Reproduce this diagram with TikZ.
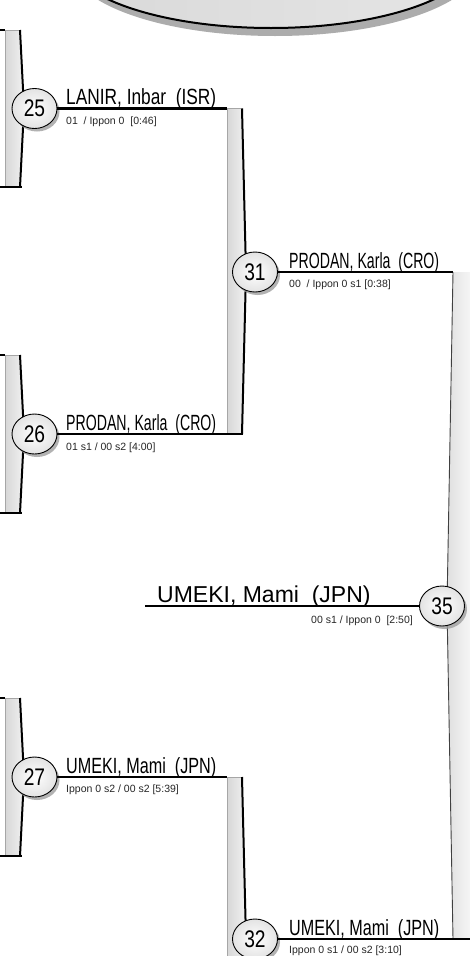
\documentclass[tikz,border=0pt]{standalone}
\usepackage{graphicx}
\usepackage{fontspec}
\setmainfont{Liberation Sans}
\newfontfamily\narrowfont[FakeStretch=0.8]{Liberation Sans}
\usetikzlibrary{shapes.geometric,shadows}
\newcommand\fitname[1]{\resizebox{150pt}{\height}{\narrowfont\fontsize{22}{22}\selectfont #1}}
\tikzset{
  wline/.style={line width=2.5pt, black},
  ball/.style={ellipse, draw=black, line width=0.9pt, minimum width=45pt, minimum height=40pt,
    inner sep=0pt, inner color=white, outer color=gray!22,
    drop shadow={shadow xshift=2.5pt, shadow yshift=-3pt, fill=gray!75, opacity=0.8},
    font=\narrowfont\fontsize{24}{24}\selectfont},
  pname/.style={anchor=base west, inner sep=0pt},
  pscore/.style={anchor=base west, inner sep=0pt, font=\fontsize{10.5}{11}\selectfont, text=black!85},
  bigname/.style={anchor=base west, inner sep=0pt, font=\fontsize{23}{24}\selectfont},
  barshade/.style={left color=gray!32, middle color=white, right color=gray!10},
  baredge/.style={line width=2pt, black, line join=round},
  barside/.style={gray!70, line width=0.6pt},
}
\newcommand\lbar[6]{%
  \shade[barshade] (#1,#3) -- (#2,#3) -- (#6,#5) -- (#2,#4) -- (#1,#4) -- cycle;
  \draw[barside] (#2,#3) -- (#1,#3) -- (#1,#4);
  \draw[baredge] (#2,#3) -- (#6,#5) -- (#2,#4);
}
\begin{document}
\begin{tikzpicture}[x=1pt,y=-1pt]
\useasboundingbox (0,0) rectangle (470,956);
\clip (0,0) rectangle (470,956);
\fill[white] (0,0) rectangle (470,956);
% top ellipse
\fill[gray!65] (275,-37) ellipse [x radius=205pt, y radius=73pt];
\shadedraw[left color=gray!30, middle color=white, right color=gray!20, draw=black, line width=2pt]
  (271,-45) ellipse [x radius=205pt, y radius=73pt];

% coordinates
\coordinate (in25a) at (0,30);   \coordinate (b25tl) at (5,30);
\coordinate (in25b) at (0,187);  \coordinate (b25br) at (22,187);
\coordinate (in26a) at (0,355);  \coordinate (b26tl) at (5,355);
\coordinate (in26b) at (0,513);  \coordinate (b26br) at (22,513);
\coordinate (in27a) at (0,698);  \coordinate (b27tl) at (5,698);
\coordinate (in27b) at (0,856);  \coordinate (b27br) at (22,856);
\coordinate (b31tl) at (227,108.5);
\coordinate (b31br) at (243,434);
\coordinate (b32tl) at (227,777);
\coordinate (b35tl) at (453,272);
\coordinate (b35br) at (470,939);
\coordinate (w35) at (145,606);

% bars
\lbar{5}{20}{30}{187}{108.5}{24}
\lbar{5}{20}{355}{513}{434}{24}
\lbar{5}{20}{698}{856}{777}{24}
\lbar{227}{242}{108.5}{434}{272}{246}
\lbar{227}{242}{777}{1101}{939}{246}
\shade[left color=gray!25, right color=white] (453,272) -- (480,272) -- (480,939) -- (453,939) -- (447,606) -- cycle;
\draw[black!75, line width=0.9pt] (453,272) -- (447,606) -- (453,939);

% circles
\node[ball] (c25) at (34.5,108.5) {25};
\node[ball] (c26) at (34.5,434) {26};
\node[ball] (c27) at (34.5,777) {27};
\node[ball] (c31) at (255,272) {31};
\node[ball] (c32) at (255,939) {32};
\node[ball] (c35) at (442,606) {35};

% connectors
\draw[wline] (in25a) -- (b25tl);
\draw[wline] (in25b) -- (b25br);
\draw[wline] (in26a) -- (b26tl);
\draw[wline] (in26b) -- (b26br);
\draw[wline] (in27a) -- (b27tl);
\draw[wline] (in27b) -- (b27br);
\draw[wline] (c25.east) -- (b31tl);
\draw[wline] (c26.east) -- (b31br);
\draw[wline] (c27.east) -- (b32tl);
\draw[wline] (c31.east) -- (b35tl);
\draw[wline] (c32.east) -- (b35br);
\draw[wline] (c35.west) -- (w35);

% names and scores
\node[pname] (n25) at (66,104) {\fitname{LANIR, Inbar~ (ISR)}};
\node[pscore] (s25) at (66,124) {01~~/ Ippon 0~~[0:46]};
\node[pname] (n26) at (66,430) {\fitname{PRODAN, Karla~ (CRO)}};
\node[pscore] (s26) at (66,450) {01 s1 / 00 s2 [4:00]};
\node[pname] (n27) at (66,773) {\fitname{UMEKI, Mami~ (JPN)}};
\node[pscore] (s27) at (66,792) {Ippon 0 s2 / 00 s2 [5:39]};
\node[pname] (n31) at (289,268) {\fitname{PRODAN, Karla~ (CRO)}};
\node[pscore] (s31) at (289,287) {00~~/ Ippon 0 s1 [0:38]};
\node[pname] (n32) at (289,935) {\fitname{UMEKI, Mami~ (JPN)}};
\node[pscore] (s32) at (289,953) {Ippon 0 s1 / 00 s2 [3:10]};
\node[bigname] (n35) at (157,602) {UMEKI, Mami~ (JPN)};
\node[pscore, anchor=base east] (s35) at (413,623) {00 s1 / Ippon 0~~[2:50]};
\end{tikzpicture}
\end{document}
